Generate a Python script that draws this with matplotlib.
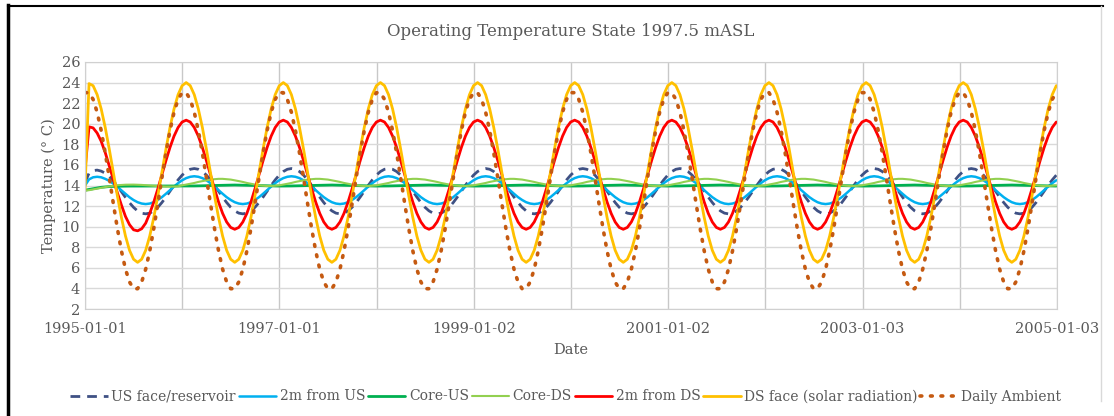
import numpy as np
import pandas as pd
import matplotlib
matplotlib.use("Agg")
import matplotlib.pyplot as plt
from matplotlib.lines import Line2D

plt.rcParams['font.family'] = ['DejaVu Serif']

# samples every half month (24 per year), first year has the start-up transient,
# later years repeat the same annual cycle
steps_per_year = 24
n_years = 10

ambient_first = [23.02, 23.02, 22.37, 21.12, 19.34, 17.17, 14.75, 12.25, 9.83, 7.66, 5.88, 4.63,
                 3.98, 3.98, 4.63, 5.88, 7.66, 9.83, 12.25, 14.75, 17.17, 19.34, 21.12, 22.37]
ambient_year = [23.02, 23.02, 22.37, 21.12, 19.34, 17.17, 14.75, 12.25, 9.83, 7.66, 5.88, 4.63,
                3.98, 3.98, 4.63, 5.88, 7.66, 9.83, 12.25, 14.75, 17.17, 19.34, 21.12, 22.37]

ds_face_first = [13.6, 23.9, 23.70, 22.83, 21.44, 19.64, 17.53, 15.27, 13.01, 10.90, 9.10, 7.71,
                 6.84, 6.54, 6.84, 7.71, 9.10, 10.90, 13.01, 15.27, 17.53, 19.64, 21.44, 22.83]
ds_face_year = [23.70, 24.00, 23.70, 22.83, 21.44, 19.64, 17.53, 15.27, 13.01, 10.90, 9.10, 7.71,
                6.84, 6.54, 6.84, 7.71, 9.10, 10.90, 13.01, 15.27, 17.53, 19.64, 21.44, 22.83]

ds2m_first = [15.5, 19.7, 19.6, 19.1, 18.3, 17.2, 15.9, 14.6, 13.3, 12.1, 11.0, 10.2,
              9.7, 9.6, 9.8, 10.35, 11.30, 12.40, 13.68, 15.05, 16.42, 17.70, 18.80, 19.64]
ds2m_year = [20.17, 20.35, 20.17, 19.64, 18.80, 17.70, 16.42, 15.05, 13.68, 12.40, 11.30, 10.46,
             9.93, 9.75, 9.93, 10.46, 11.30, 12.40, 13.68, 15.05, 16.42, 17.70, 18.80, 19.64]

us_face_first = [14.3, 15.2, 15.45, 15.5, 15.4, 15.2, 14.9, 14.45, 13.95, 13.4, 12.85, 12.33,
                 11.88, 11.53, 11.31, 11.25, 11.32, 11.54, 11.89, 12.35, 12.88, 13.45, 14.02, 14.55]
us_face_year = [15.01, 15.36, 15.58, 15.65, 15.58, 15.36, 15.01, 14.55, 14.02, 13.45, 12.88, 12.35,
                11.89, 11.54, 11.32, 11.25, 11.32, 11.54, 11.89, 12.35, 12.88, 13.45, 14.02, 14.55]

us2m_first = [14.0, 14.6, 14.8, 14.85, 14.8, 14.65, 14.45, 14.18, 13.87, 13.53, 13.19, 12.86,
              12.59, 12.38, 12.25, 12.20, 12.25, 12.38, 12.60, 12.87, 13.20, 13.55, 13.90, 14.23]
us2m_year = [14.51, 14.72, 14.85, 14.90, 14.85, 14.72, 14.51, 14.23, 13.90, 13.55, 13.20, 12.87,
             12.60, 12.38, 12.25, 12.20, 12.25, 12.38, 12.60, 12.87, 13.20, 13.55, 13.90, 14.23]

core_us_first = [13.55, 13.62, 13.70, 13.77, 13.83, 13.87, 13.90, 13.92, 13.93, 13.94, 13.95, 13.95,
                 13.95, 13.95, 13.95, 13.95, 13.95, 13.95, 13.95, 13.95, 13.95, 13.95, 13.95, 13.95]
core_us_year = [13.95, 13.95, 13.96, 13.96, 13.97, 13.98, 14.00, 14.01, 14.02, 14.03, 14.04, 14.05,
                14.05, 14.05, 14.04, 14.03, 14.02, 14.01, 14.00, 13.98, 13.97, 13.96, 13.96, 13.95]

core_ds_first = [13.50, 13.55, 13.62, 13.70, 13.78, 13.85, 13.92, 13.98, 14.03, 14.06, 14.08, 14.09,
                 14.09, 14.08, 14.06, 14.03, 14.00, 13.97, 13.94, 13.92, 13.90, 13.90, 13.90, 13.92]
core_ds_year = [14.02, 14.09, 14.17, 14.25, 14.35, 14.43, 14.51, 14.58, 14.62, 14.65, 14.65, 14.62,
                14.58, 14.51, 14.43, 14.35, 14.25, 14.17, 14.09, 14.02, 13.98, 13.95, 13.95, 13.98]

labels = ['US face/reservoir', '2m from US', 'Core-US', 'Core-DS', '2m from DS',
          'DS face (solar radiation)', 'Daily Ambient']
tick_dates = ['1995-01-01', '1997-01-01', '1999-01-02', '2001-01-02', '2003-01-03', '2005-01-03']
mid_dates = ['1996-01-01 12:00', '1998-01-01 12:00', '2000-01-02 12:00',
             '2002-01-02 12:00', '2004-01-03 12:00']


def build(first, year):
    return np.array(first + year * (n_years - 1) + [year[0]])


series = [build(us_face_first, us_face_year), build(us2m_first, us2m_year),
          build(core_us_first, core_us_year), build(core_ds_first, core_ds_year),
          build(ds2m_first, ds2m_year), build(ds_face_first, ds_face_year),
          build(ambient_first, ambient_year)]

n = n_years * steps_per_year + 1
days = np.arange(n) * 365.25 / steps_per_year
dates = pd.Timestamp('1995-01-01') + pd.to_timedelta(days, unit='D')

colors = ['#3F5184', '#00B0F0', '#00B050', '#92D050', '#FF0000', '#FFC000', '#C55A11']
styles = [(0, (3.5, 2.5)), '-', '-', '-', '-', '-', (0, (0.5, 2.4))]
widths = [2.0, 1.8, 2.0, 1.5, 2.0, 2.0, 2.6]

fig = plt.figure(figsize=(11.14, 4.16), dpi=100)
ax = fig.add_axes([0.0763, 0.257, 0.8725, 0.594])

for y, c, ls, lw, lab in zip(series, colors, styles, widths, labels):
    cap = 'round' if lab == 'Daily Ambient' else 'butt'
    ax.plot(dates, y, color=c, linestyle=ls, linewidth=lw, label=lab,
            dash_capstyle=cap, solid_capstyle='round')

txt = '#595959'
ax.set_ylim(2, 26)
ax.set_yticks(np.arange(2, 27, 2))
ax.set_xlim(pd.Timestamp('1995-01-01'), pd.Timestamp('2005-01-03'))
ax.set_xticks(pd.to_datetime(tick_dates))
ax.set_xticklabels(tick_dates)
ax.set_xticks(pd.to_datetime(mid_dates), minor=True)
ax.tick_params(which='both', length=0, colors=txt, labelsize=10.5)
ax.tick_params(axis='x', pad=9)
ax.grid(axis='y', color='#D9D9D9', linewidth=1.0)
ax.grid(axis='x', which='both', color='#C8C8C8', linewidth=1.0)
ax.set_axisbelow(True)
for s in ax.spines.values():
    s.set_color('#D0D0D0')

ax.set_title('Operating Temperature State 1997.5 mASL', color=txt, fontsize=12, pad=19)
ax.set_xlabel('Date', color=txt, fontsize=10.5, labelpad=5)
ax.set_ylabel('Temperature (° C)', color=txt, fontsize=10.5, labelpad=4)

leg = fig.legend(loc='lower center', bbox_to_anchor=(0.508, 0.0), ncol=7, frameon=False,
                 fontsize=10, handlelength=2.7, handletextpad=0.25, columnspacing=0.2,
                 labelcolor=txt)

# outer frame of the chart object
fig.add_artist(Line2D([0.007, 0.007], [0.005, 0.987], transform=fig.transFigure,
                      color='black', linewidth=2.5))
fig.add_artist(Line2D([0.007, 0.99], [0.986, 0.986], transform=fig.transFigure,
                      color='black', linewidth=1.5))
fig.add_artist(Line2D([0.988, 0.988], [0.035, 0.986], transform=fig.transFigure,
                      color='#D9D9D9', linewidth=1.0))

fig.savefig('out.png', dpi=100)
